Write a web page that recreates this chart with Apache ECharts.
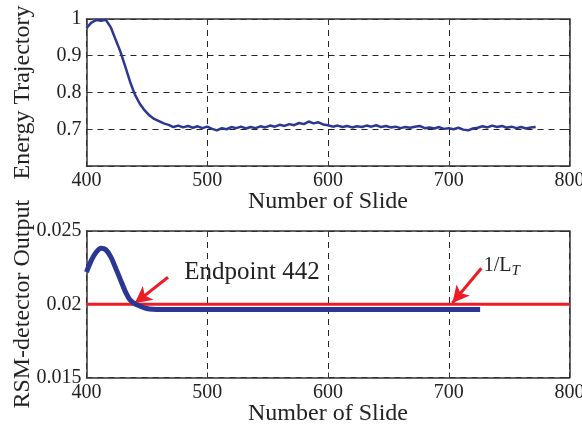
<!DOCTYPE html>
<html>
<head>
<meta charset="utf-8">
<script src="https://cdn.jsdelivr.net/npm/echarts@6/dist/echarts.min.js"></script>
<style>html,body{margin:0;padding:0;background:#fff}#c{width:582px;height:426px}</style>
</head>
<body>
<div id="c"></div>
<script>
// ---- data ----
const slidesTop = [400,404,408,412,416,420,424,428,432,436,440,444,448,452,456,460,464,468,472,476,480,484,488,492,496,500,504,508,512,516,520,524,528,532,536,540,544,548,552,556,560,564,568,572,576,580,584,588,592,596,600,604,608,612,616,620,624,628,632,636,640,644,648,652,656,660,664,668,672,676,680,684,688,692,696,700,704,708,712,716,720,724,728,732,736,740,744,748,752,756,760,764,768,772];
const energyTop = [0.975,0.990,0.997,0.995,0.998,0.978,0.945,0.912,0.872,0.830,0.795,0.770,0.752,0.738,0.728,0.722,0.716,0.712,0.706,0.710,0.705,0.709,0.704,0.708,0.703,0.707,0.701,0.697,0.703,0.700,0.706,0.703,0.707,0.702,0.706,0.703,0.708,0.705,0.710,0.707,0.712,0.709,0.714,0.711,0.717,0.714,0.721,0.716,0.719,0.713,0.711,0.707,0.710,0.706,0.709,0.705,0.708,0.706,0.710,0.707,0.711,0.706,0.709,0.705,0.707,0.703,0.706,0.704,0.707,0.709,0.703,0.705,0.702,0.706,0.701,0.703,0.700,0.704,0.699,0.697,0.702,0.704,0.708,0.705,0.710,0.706,0.709,0.704,0.707,0.703,0.706,0.702,0.705,0.706];
const slidesBottom = [400,404,408,412,416,420,424,428,432,436,440,444,448,452,458,470,500,550,600,650,700,726];
const rsmOutput = [0.0222,0.0230,0.02355,0.02382,0.02372,0.02325,0.0225,0.0217,0.0209,0.0203,0.02003,0.01988,0.01975,0.01968,0.01965,0.01965,0.01965,0.01965,0.01965,0.01965,0.01965,0.01965];
const thresholdX = [400,800];
const threshold = 0.02;          // 1/L_T
const endpoint = 442;
const xTicks = [400,500,600,700,800];
const yTicksTop = [0.7,0.8,0.9,1];
const yTicksBottom = [0.015,0.02,0.025];

// ---- chart ----
const chart = echarts.init(document.getElementById('c'), null, {renderer:'canvas'});
const serif = 'Liberation Serif, Times New Roman, serif';
const ink = '#222';
const blue = '#2b3793';
const red = '#ee1c25';

function zip(xs, ys){ return xs.map((x,i)=>[x,ys[i]]); }

function xAx(grid, pos){
  const main = pos === 'bottom';
  return {
    type:'value', gridIndex:grid, position:pos, min:xTicks[0], max:xTicks[xTicks.length-1], interval:100,
    name: main ? 'Number of Slide' : '', nameLocation:'middle', nameGap:24, nameMoveOverlap:false,
    nameTextStyle:{fontFamily:serif,fontSize:24,color:ink},
    axisLine:{show:true,onZero:false,lineStyle:{color:'#333',width:1.5}},
    axisTick:{show:true,inside:true,length:5,lineStyle:{color:'#333'}},
    axisLabel:{show:main,margin:5,fontFamily:serif,fontSize:20,color:ink,
      formatter:v=>xTicks.includes(v)?String(v):''},
    splitLine:{show:main,lineStyle:{color:'#222',type:[6,5],width:1}}
  };
}
function yAx(grid, pos, min, max, interval, ticks, name){
  const main = pos === 'left';
  return {
    type:'value', gridIndex:grid, position:pos, min:min, max:max, interval:interval,
    name: main ? name : '', nameLocation:'middle', nameGap:52, nameMoveOverlap:false,
    nameTextStyle:{fontFamily:serif,fontSize:24,color:ink},
    axisLine:{show:true,onZero:false,lineStyle:{color:'#333',width:1.5}},
    axisTick:{show:true,inside:true,length:5,lineStyle:{color:'#333'}},
    axisLabel:{show:main,margin:5,fontFamily:serif,fontSize:20,color:ink,
      formatter:v=>{const t=ticks.find(k=>Math.abs(k-v)<1e-9);return t===undefined?'':String(t);}},
    splitLine:{show:main,lineStyle:{color:'#222',type:[6,5],width:1}}
  };
}

const option = {
  animation:false,
  backgroundColor:'#fff',
  grid:[
    {left:86.5,right:12.5,top:19,height:147,outerBoundsMode:'none',containLabel:false},
    {left:86.5,right:12.5,top:231,height:146.5,outerBoundsMode:'none',containLabel:false}
  ],
  xAxis:[xAx(0,'bottom'),xAx(0,'top'),xAx(1,'bottom'),xAx(1,'top')],
  yAxis:[
    yAx(0,'left',0.6,1,0.1,yTicksTop,'Energy Trajectory'),
    yAx(0,'right',0.6,1,0.1,yTicksTop,''),
    yAx(1,'left',0.015,0.025,0.005,yTicksBottom,'RSM-detector Output'),
    yAx(1,'right',0.015,0.025,0.005,yTicksBottom,'')
  ],
  series:[
    {type:'line',xAxisIndex:0,yAxisIndex:0,data:zip(slidesTop,energyTop),showSymbol:false,
      lineStyle:{color:blue,width:2.5},z:5},
    {type:'line',xAxisIndex:2,yAxisIndex:2,data:zip(thresholdX,[threshold,threshold]),showSymbol:false,
      lineStyle:{color:red,width:3},z:4,
      markLine:{silent:true,symbol:['none','arrow'],symbolSize:[13,17],
        lineStyle:{color:red,width:3,type:'solid'},label:{show:false},
        data:[
          [{coord:[467.5,0.02184]},{coord:[endpoint-2,0.02006]}],
          [{coord:[727,0.02246]},{coord:[703,0.02008]}]
        ]},
      markPoint:{silent:true,symbol:'circle',symbolSize:0,
        data:[
          {coord:[481,0.0222],label:{show:true,position:'right',distance:0,formatter:'Endpoint '+endpoint,
            fontFamily:serif,fontSize:25,color:ink}},
          {coord:[729,0.02262],label:{show:true,position:'right',distance:0,formatter:'{a|1/L}{b|T}',
            rich:{a:{fontFamily:serif,fontSize:20,color:ink},
                  b:{fontFamily:serif,fontSize:15,fontStyle:'italic',color:ink,padding:[10,0,0,0]}}}}
        ]}
    },
    {type:'line',xAxisIndex:2,yAxisIndex:2,data:zip(slidesBottom,rsmOutput),showSymbol:false,smooth:0.3,
      lineStyle:{color:blue,width:5},z:5}
  ]
};
chart.setOption(option);
</script>
</body>
</html>
